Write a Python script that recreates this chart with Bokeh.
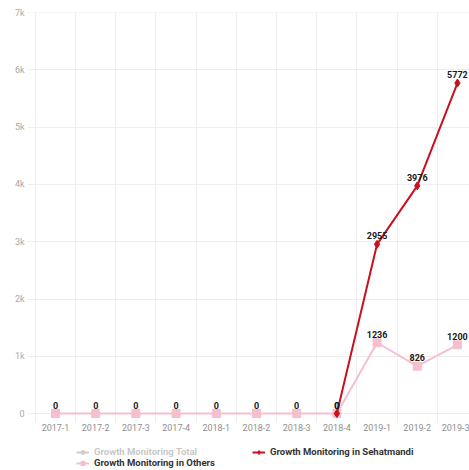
from bokeh.plotting import figure
from bokeh.layouts import column
from bokeh.models import (ColumnDataSource, Range1d, FixedTicker, Legend,
                          LegendItem, LabelSet)
from bokeh.core.properties import value
from bokeh.embed import file_html
from bokeh.resources import INLINE

# Quarterly growth-monitoring counts
quarters = ["2017-1", "2017-2", "2017-3", "2017-4", "2018-1", "2018-2",
            "2018-3", "2018-4", "2019-1", "2019-2", "2019-3"]
sehatmandi = [None, None, None, None, None, None, None, 0, 2955, 3976, 5772]
others = [0, 0, 0, 0, 0, 0, 0, 0, 1236, 826, 1200]
y_ticks = [0, 1000, 2000, 3000, 4000, 5000, 6000, 7000]
y_tick_labels = ["0", "1k", "2k", "3k", "4k", "5k", "6k", "7k"]
series_names = ["Growth Monitoring Total", "Growth Monitoring in Sehatmandi",
                "Growth Monitoring in Others"]

RED = "#c8101e"
PINK = "#f5bfcd"
GREY = "#555555"
FONT = "Roboto"

idx = list(range(len(quarters)))
seh_idx = [i for i, v in zip(idx, sehatmandi) if v is not None]
seh_vals = [v for v in sehatmandi if v is not None]

src_others = ColumnDataSource(dict(x=idx, y=others, t=[str(v) for v in others]))
src_seh = ColumnDataSource(dict(x=seh_idx, y=seh_vals, t=[str(v) for v in seh_vals]))

p = figure(frame_width=442, frame_height=410, output_backend="svg",
           toolbar_location=None,
           x_range=Range1d(-0.697, 10.3), y_range=Range1d(-157, 7004),
           min_border_left=27, min_border_right=0, min_border_top=12,
           min_border_bottom=14)
p.outline_line_color = None
p.background_fill_color = "white"
p.border_fill_color = "white"

# axes
p.xaxis.ticker = FixedTicker(ticks=idx)
p.xaxis.major_label_overrides = {i: q for i, q in zip(idx, quarters)}
p.yaxis.ticker = FixedTicker(ticks=y_ticks)
p.yaxis.major_label_overrides = {t: l for t, l in zip(y_ticks, y_tick_labels)}
for ax in (p.xaxis, p.yaxis):
    ax.axis_line_color = None
    ax.major_tick_line_color = None
    ax.minor_tick_line_color = None
    ax.major_tick_out = 0
    ax.major_tick_in = 0
    ax.minor_tick_out = 0
    ax.major_label_text_font = FONT
    ax.major_label_text_font_size = "9px"
p.xaxis.major_label_text_color = "#8f8f8f"
p.yaxis.major_label_text_color = "#a8a8a8"
p.xaxis.major_label_standoff = 1
p.yaxis.major_label_standoff = 3

# grid: horizontal at y ticks, vertical between quarters
p.ygrid.ticker = FixedTicker(ticks=y_ticks)
p.xgrid.ticker = FixedTicker(ticks=[i - 0.5 for i in idx] + [len(idx) - 0.5])
for g in (p.xgrid, p.ygrid):
    g.grid_line_color = "#eeeeee"
    g.grid_line_width = 1

# series
p.line("x", "y", source=src_others, line_color=PINK, line_width=2)
p.scatter("x", "y", source=src_others, marker="square", size=8,
          fill_color=PINK, line_color=PINK)
p.line("x", "y", source=src_seh, line_color=RED, line_width=2)
p.scatter("x", "y", source=src_seh, marker="diamond", size=8,
          fill_color=RED, line_color=RED)

# value labels
for src in (src_others, src_seh):
    p.add_layout(LabelSet(x="x", y="y", text="t", source=src, y_offset=5,
                          text_align="center", text_baseline="alphabetic",
                          text_font=value(FONT), text_font_style="bold",
                          text_font_size="9px", text_color="#1a1a1a"))

# legend strip underneath the chart
lg = figure(width=469, height=34, output_backend="svg", toolbar_location=None,
            x_range=Range1d(0, 1), y_range=Range1d(0, 1),
            min_border=0, x_axis_type=None, y_axis_type=None)
lg.outline_line_color = None
lg.xgrid.visible = False
lg.ygrid.visible = False
# legend swatches only; NaN keeps them off the strip itself
swatch = ColumnDataSource(dict(x=[float("nan")], y=[float("nan")]))
styles = [(GREY, "circle", 7), (RED, "diamond", 8), (PINK, "square", 8)]
items = []
for name, (col, mk, sz) in zip(series_names, styles):
    ln = lg.line("x", "y", source=swatch, line_color=col, line_width=2)
    sc = lg.scatter("x", "y", source=swatch, marker=mk, size=sz,
                    fill_color=col, line_color=col)
    items.append(LegendItem(label=name, renderers=[ln, sc]))
# the total series is switched off
items[0].renderers[0].visible = False
items[0].renderers[1].visible = False

legend = Legend(items=items, orientation="horizontal", ncols=2,
                click_policy="hide", location=(49, 2), margin=0, padding=0,
                spacing=0, label_text_font=FONT, label_text_font_style="bold",
                label_text_font_size="9.5px", label_text_color="#333333",
                label_standoff=5, label_height=10, label_width=158,
                glyph_height=10, glyph_width=13,
                border_line_color=None, background_fill_alpha=0,
                inactive_fill_color="white", inactive_fill_alpha=0.72)
lg.add_layout(legend, "center")

page = column(p, lg, spacing=0)
open("out.html", "w").write(file_html(page, INLINE))
